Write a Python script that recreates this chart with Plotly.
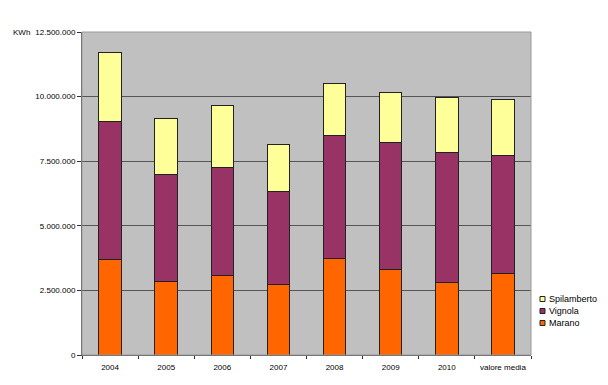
import plotly.graph_objects as go

categories = ["2004", "2005", "2006", "2007", "2008", "2009", "2010", "valore media"]
marano = [3700000, 2860000, 3090000, 2710000, 3730000, 3290000, 2790000, 3170000]
vignola = [5350000, 4140000, 4170000, 3610000, 4780000, 4930000, 5060000, 4570000]
spilamberto = [2660000, 2160000, 2400000, 1840000, 1990000, 1930000, 2110000, 2160000]
y_ticks = [0, 2500000, 5000000, 7500000, 10000000, 12500000]
legend_names = ["Spilamberto", "Vignola", "Marano"]

series = [("Marano", marano, "#FF6600"), ("Vignola", vignola, "#993366"), ("Spilamberto", spilamberto, "#FFFF99")]
colors = {n: c for n, _, c in series}

L, R, T, B = 82, 77, 32, 30
W, H = 608, 385
pw, ph = W - L - R, H - T - B

def px(x):
    return (x - L) / pw

def py(y):
    return (H - B - y) / ph

line = dict(color="#222222", width=1)
fig = go.Figure()
for name, vals, col in series:
    fig.add_trace(go.Bar(name=name, x=categories, y=vals, marker=dict(color=col, line=line)))

fig.update_layout(
    barmode="stack",
    bargap=0.6,
    width=W, height=H,
    margin=dict(l=L, r=R, t=T, b=B, autoexpand=False),
    paper_bgcolor="white",
    plot_bgcolor="#C0C0C0",
    separators=",.",
    font=dict(family="Liberation Sans, Arial", size=9, color="black"),
    showlegend=False,
)
fig.update_yaxes(range=[0, 12500000], tickvals=y_ticks, tickformat=",d", automargin=False,
                 showgrid=True, gridcolor="#555555", gridwidth=1,
                 showline=True, linecolor="#555555", linewidth=1, mirror=False,
                 ticks="outside", ticklen=4, tickcolor="#333333", zeroline=False,
                 tickfont=dict(size=8))
fig.update_xaxes(showline=True, linecolor="#555555", linewidth=1, automargin=False, tickangle=0,
                 ticks="outside", ticklen=3, tickson="boundaries", tickcolor="#333333",
                 ticklabelstandoff=4, tickfont=dict(size=8))
fig.add_annotation(text="KWh", xref="paper", yref="paper", x=px(21), y=py(32),
                   xanchor="center", yanchor="middle", showarrow=False, font=dict(size=8))
fig.add_shape(type="rect", xref="paper", yref="paper", x0=0, y0=0, x1=1, y1=1,
              line=dict(color="#999999", width=1), layer="above")

# legend drawn manually (compact, as in reference)
for i, name in enumerate(legend_names):
    cy = 299 + i * 12
    fig.add_shape(type="rect", xref="paper", yref="paper",
                  x0=px(540), x1=px(545), y0=py(cy + 2.5), y1=py(cy - 2.5),
                  fillcolor=colors[name], line=dict(color="#222222", width=1))
    fig.add_annotation(text=name, xref="paper", yref="paper", x=px(546.5), y=py(cy),
                       xanchor="left", yanchor="middle", showarrow=False, font=dict(size=9))

fig.write_html("out.html", config={"displayModeBar": False},
               post_script="document.body.style.margin='0';")
